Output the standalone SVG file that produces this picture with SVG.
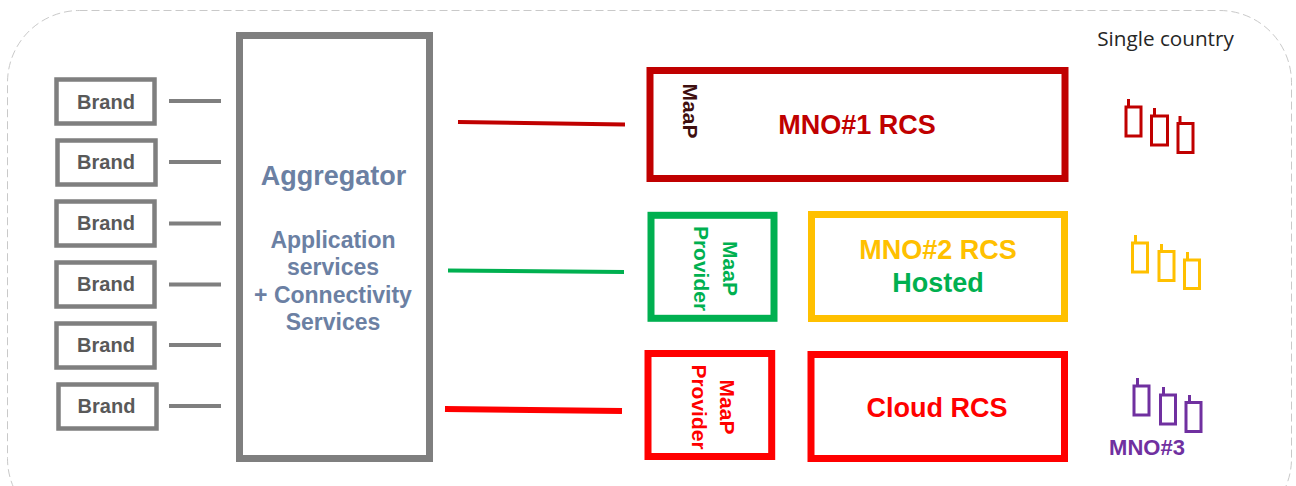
<svg xmlns="http://www.w3.org/2000/svg" width="1296" height="486" viewBox="0 0 1296 486">
<style>
text{font-family:"Liberation Sans",Arial,sans-serif;font-weight:700;text-anchor:middle}
.brand rect{fill:#fff;stroke:#7f7f7f;stroke-width:4.500}
.brand text{font-size:20px;fill:#595959}
.conn line{stroke-width:4}
.conn .thick{stroke-width:6}
.box{fill:#fff}
.ag{font-size:23px;fill:#6b80a3}
.lg{font-size:27px}
.mp{font-size:21px}
.tower rect{fill:none;stroke-width:3}
.tower path{fill:none;stroke-width:3}
</style>
<rect width="1296" height="486" fill="#fff"/>
<rect id="boundary" x="7.500" y="10.500" width="1284" height="520" rx="72" ry="72" fill="none" stroke="#c9c9c9" stroke-width="1" stroke-dasharray="8 4"/>
<g id="connectors" class="conn">
<line x1="169" y1="101" x2="221" y2="101" stroke="#7f7f7f"/>
<line x1="169" y1="162" x2="221" y2="162" stroke="#7f7f7f"/>
<line x1="169" y1="223.500" x2="221" y2="223.500" stroke="#7f7f7f"/>
<line x1="169" y1="284.500" x2="221" y2="284.500" stroke="#7f7f7f"/>
<line x1="169" y1="345" x2="221" y2="345" stroke="#7f7f7f"/>
<line x1="169" y1="406" x2="221" y2="406" stroke="#7f7f7f"/>
<line x1="458" y1="122" x2="625" y2="124.500" stroke="#c00000"/>
<line x1="448" y1="270.500" x2="624" y2="272" stroke="#00b050"/>
<line class="thick" x1="445" y1="409" x2="622" y2="411" stroke="#ff0000"/>
</g>
<g id="brand1" class="brand"><rect x="56.500" y="79.500" width="98" height="44"/><text x="106" y="109">Brand</text></g>
<g id="brand2" class="brand"><rect x="57.500" y="140.500" width="98" height="44"/><text x="106" y="169">Brand</text></g>
<g id="brand3" class="brand"><rect x="56.500" y="201.500" width="98" height="44"/><text x="106" y="230">Brand</text></g>
<g id="brand4" class="brand"><rect x="56.500" y="262.500" width="98" height="44"/><text x="106" y="291">Brand</text></g>
<g id="brand5" class="brand"><rect x="56.500" y="323.500" width="98" height="44"/><text x="106" y="352">Brand</text></g>
<g id="brand6" class="brand"><rect x="58.500" y="384.500" width="98" height="44"/><text x="106.500" y="413">Brand</text></g>
<g id="aggregator">
<rect x="239.500" y="35.500" width="190" height="423" fill="#fff" stroke="#7f7f7f" stroke-width="7"/>
<text x="333.500" y="185" font-size="27" fill="#6b80a3">Aggregator</text>
<text class="ag" x="333" y="247.500">Application</text>
<text class="ag" x="333" y="274.500">services</text>
<text class="ag" x="333" y="302.500">+ Connectivity</text>
<text class="ag" x="333" y="329.500">Services</text>
</g>
<g id="mno1">
<rect class="box" x="650" y="70.500" width="415" height="108" stroke="#c00000" stroke-width="7"/>
<text class="lg" x="857" y="133.500" fill="#c00000">MNO#1 RCS</text>
<text class="mp" transform="translate(683 111) rotate(90)" fill="#3f0f0f">MaaP</text>
</g>
<g id="maap-provider-green">
<rect class="box" x="651" y="215.300" width="123" height="103" stroke="#00b050" stroke-width="7"/>
<text class="mp" transform="translate(723 268.500) rotate(90)" fill="#00b050">MaaP</text>
<text class="mp" transform="translate(694 268.500) rotate(90)" fill="#00b050">Provider</text>
</g>
<g id="mno2">
<rect class="box" x="811.500" y="214.500" width="253" height="104" stroke="#ffc000" stroke-width="7"/>
<text class="lg" x="938" y="258.500" fill="#ffc000">MNO#2 RCS</text>
<text class="lg" x="938" y="292" fill="#00b050">Hosted</text>
</g>
<g id="maap-provider-red">
<rect class="box" x="648" y="353.500" width="123.700" height="103" stroke="#ff0000" stroke-width="7"/>
<text class="mp" transform="translate(720 407) rotate(90)" fill="#ff0000">MaaP</text>
<text class="mp" transform="translate(691.500 407) rotate(90)" fill="#ff0000">Provider</text>
</g>
<g id="cloud-rcs">
<rect class="box" x="811" y="354.500" width="253.500" height="104" stroke="#ff0000" stroke-width="7"/>
<text class="lg" x="937" y="416.500" fill="#ff0000">Cloud RCS</text>
</g>
<text id="single-country" x="1165.500" y="46" style="font-family:'Open Sans','Noto Sans',sans-serif;font-weight:400;font-size:20.700px;fill:#262626">Single country</text>
<g id="towers-red" class="tower" stroke="#c00000">
<rect x="1126" y="107" width="15" height="29"/><path d="M1128.500 107V99"/>
<rect x="1151.500" y="116" width="16" height="29"/><path d="M1154.500 116V108"/>
<rect x="1178" y="123.500" width="15" height="29"/><path d="M1180 123.500V116"/>
</g>
<g id="towers-yellow" class="tower" stroke="#ffc000">
<rect x="1132.500" y="243" width="15" height="29"/><path d="M1135.500 243V235"/>
<rect x="1159" y="251.500" width="15" height="29"/><path d="M1161.500 251.500V244"/>
<rect x="1184.500" y="260" width="15" height="28.500"/><path d="M1187.500 260V252"/>
</g>
<g id="towers-purple" class="tower" stroke="#7030a0">
<rect x="1134" y="386" width="15" height="29"/><path d="M1137.500 386V378"/>
<rect x="1160.500" y="395" width="15" height="29"/><path d="M1163.500 395V387"/>
<rect x="1186" y="402.500" width="15" height="29"/><path d="M1189.500 402.500V395"/>
<text x="1147" y="455" font-size="22" fill="#7030a0" stroke="none">MNO#3</text>
</g>
</svg>
